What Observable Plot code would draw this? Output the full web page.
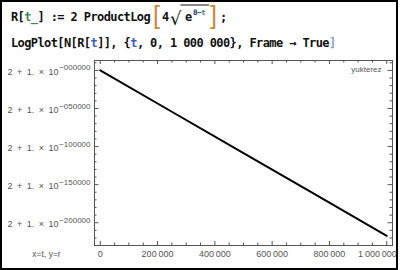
<!DOCTYPE html>
<html>
<head>
<meta charset="utf-8">
<script src="https://cdn.jsdelivr.net/npm/d3@7"></script>
<script src="https://cdn.jsdelivr.net/npm/@observablehq/plot@0.6"></script>
<style>
  html, body { margin: 0; padding: 0; background: #fff; }
  #wrap { position: relative; width: 400px; height: 270px; overflow: hidden; }
  #border { position: absolute; left: 0; top: 0; width: 398px; height: 270px; box-sizing: border-box; border: 2px solid #000; pointer-events: none; }
  #header { display: block; }
  #chart svg { display: block; }
</style>
</head>
<body>
<div id="wrap">
  <svg id="header" width="400" height="55" xmlns="http://www.w3.org/2000/svg">
    <g font-family="DejaVu Sans Mono" font-weight="bold" font-size="12" fill="#111" letter-spacing="-0.6">
      <text x="11" y="21">R[<tspan fill="#3a8a5a">t_</tspan>] := 2 ProductLog</text>
      <text x="162" y="21">4</text>
      <text x="185" y="21">e</text>
      <text x="220" y="21">;</text>
      <text x="11" y="47">LogPlot[N[R[<tspan fill="#3c5ccc">t</tspan>]], {<tspan fill="#3c5ccc">t</tspan>, 0, 1 000 000}, Frame → True<tspan fill="#7fa0d0">]</tspan></text>
    </g>
    <text x="193" y="14.5" font-family="DejaVu Sans Mono" font-weight="bold" font-size="7.5" fill="#1a2a7a" letter-spacing="-0.5">8−<tspan fill="#3a8a5a">t</tspan></text>
    <text x="153" y="24" font-family="Liberation Sans" font-size="25" fill="#c98a3a">[</text>
    <text x="210" y="24" font-family="Liberation Sans" font-size="25" fill="#c98a3a">]</text>
    <text x="170" y="25" font-family="DejaVu Sans" font-size="18" fill="#111">√</text>
    <line x1="180.5" y1="5" x2="209" y2="5" stroke="#111" stroke-width="1"/>
  </svg>
  <div id="chart"></div>
  <div id="border"></div>
</div>
<script>
// data
const tValues = [0, 250000, 500000, 750000, 1000000];
const logR = [0.9, -54286, -108573, -162859, -217147];

const xMajor = [0, 200000, 400000, 600000, 800000, 1000000];
const xLabels = ["0", "200\u2009000", "400\u2009000", "600\u2009000", "800\u2009000", "1\u2009000\u2009000"];
const yMajor = [0, -50000, -100000, -150000, -200000];
const yExp = ["\u2212000000", "\u2212050000", "\u2212100000", "\u2212150000", "\u2212200000"];
const yBase = "2\u2002+\u20021.\u2002×\u200210";

const xMinor = d3.range(0, 1000001, 50000).filter(v => v % 200000 !== 0);
const yMinor = d3.range(10000, -230001, -10000).filter(v => v % 50000 !== 0);

const data = tValues.map((t, i) => ({t, r: logR[i]}));
const frameColor = "#555";
const labelColor = "#555";
const idx = a => a.map((_, i) => i);

const W = 400, H = 215, mT = 5, mB = 25, mL = 94, mR = 8;
const fw = W - mL - mR, fh = H - mT - mB;
const tickStyle = {stroke: frameColor, strokeWidth: 1};

function ticksX(ticks, size) {
  return [
    Plot.tickX(ticks, {x: d => d, insetTop: fh - size, ...tickStyle}),
    Plot.tickX(ticks, {x: d => d, insetBottom: fh - size, ...tickStyle})
  ];
}
function ticksY(ticks, size) {
  return [
    Plot.tickY(ticks, {y: d => d, insetRight: fw - size, ...tickStyle}),
    Plot.tickY(ticks, {y: d => d, insetLeft: fw - size, ...tickStyle})
  ];
}

const last = xMajor.length - 1;
const chart = Plot.plot({
  width: W,
  height: H,
  marginTop: mT,
  marginBottom: mB,
  marginLeft: mL,
  marginRight: mR,
  x: {domain: [-20000, 1020000], axis: null},
  y: {domain: [-229900, 13000], axis: null},
  style: {fontFamily: "Liberation Sans", background: "transparent", overflow: "visible"},
  marks: [
    ...ticksX(xMajor, 4),
    ...ticksX(xMinor, 2.5),
    ...ticksY(yMajor, 4.5),
    ...ticksY(yMinor, 2.5),
    Plot.frame({stroke: frameColor}),
    Plot.line(data, {x: "t", y: "r", stroke: "#000", strokeWidth: 2}),
    Plot.text(idx(xMajor).slice(0, last), {x: i => xMajor[i], text: i => xLabels[i], frameAnchor: "bottom", dy: 9, lineAnchor: "middle", fontSize: 9, fill: labelColor}),
    Plot.text([last], {x: i => xMajor[i], text: i => xLabels[i], frameAnchor: "bottom", dx: 10, dy: 9, textAnchor: "end", lineAnchor: "middle", fontSize: 9, fill: labelColor}),
    Plot.text(idx(yMajor), {y: i => yMajor[i], text: () => yBase, frameAnchor: "left", dx: -36, dy: 1.5, textAnchor: "end", lineAnchor: "middle", fontSize: 9, fill: labelColor}),
    Plot.text(idx(yMajor), {y: i => yMajor[i], text: i => yExp[i], frameAnchor: "left", dx: -4, dy: -2.5, textAnchor: "end", lineAnchor: "middle", fontSize: 8, fill: labelColor}),
    Plot.text(["yukterez"], {frameAnchor: "top-right", dx: -11, dy: 6, textAnchor: "end", lineAnchor: "top", fontSize: 8, fill: labelColor}),
    Plot.text(["x=t, y=r"], {frameAnchor: "bottom-left", dx: -48, dy: 9, textAnchor: "middle", lineAnchor: "middle", fontSize: 8.5, fill: labelColor})
  ]
});
document.getElementById("chart").appendChild(chart);
</script>
</body>
</html>
